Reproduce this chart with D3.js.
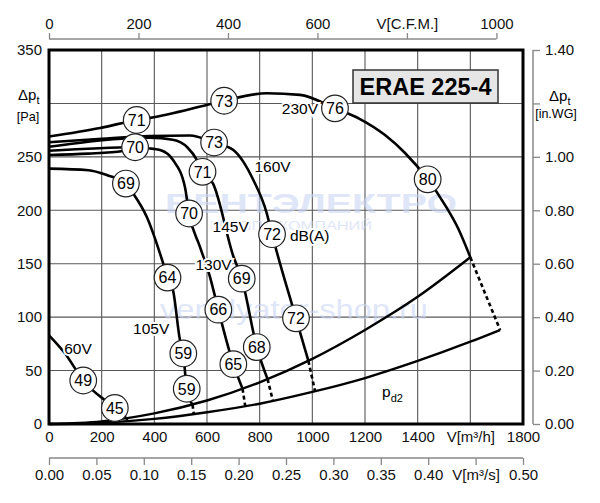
<!DOCTYPE html>
<html><head><meta charset="utf-8">
<script src="https://cdn.jsdelivr.net/npm/d3@7"></script>
<style>body{margin:0;background:#fff}svg{display:block;font-family:"Liberation Sans",Arial,Helvetica,sans-serif}</style>
</head><body><svg id="c" width="600" height="503"></svg>
<script>
// ---------- data ----------
const flowTicks = [0,200,400,600,800,1000,1200,1400,1600,1800];
const flowTickLabels = ["0","200","400","600","800","1000","1200","1400","V[m³/h]","1800"];
const cfmTicks = [0,200,400,600,800,1000];
const cfmTickLabels = ["0","200","400","600","V[C.F.M.]","1000"];
const m3sTicks = [0,0.05,0.10,0.15,0.20,0.25,0.30,0.35,0.40,0.45,0.50];
const m3sTickLabels = ["0.00","0.05","0.10","0.15","0.20","0.25","0.30","0.35","0.40","V[m³/s]","0.50"];
const paTicks = [0,50,100,150,200,250,300,350];
const paTickLabels = ["0","50","100","150","200","250","","350"];
const inwgTicks = [0,0.2,0.4,0.6,0.8,1.0,1.2,1.4];
const inwgTickLabels = ["0.00","0.20","0.40","0.60","0.80","1.00","","1.40"];

// fan curves [V m3/h, dp Pa]
const curve230V = [[0,269],[194,277],[333,284.5],[384,286.5],[599,298.6],[665,302.5],[827,309.5],[953,308],[1086,295.4],[1181,285.4],[1276,270.4],[1352,253.6],[1438,229],[1504,204.9],[1553,183.4],[1600,156]];
const curve160V = [[0,263.6],[200,267],[383,269.5],[535,270],[627,263.4],[700,256.4],[776,228.3],[827,197.2],[847,177.6],[938,98.9],[985,59]];
const curve145V = [[0,259.5],[383,268],[470,266],[525,259],[562,247],[583,236],[623,225],[700,157],[732,136],[789,72],[830,42]];
const curve130V = [[0,255.7],[327,259],[378,258],[422,256.4],[471,247],[516,222],[532,197],[573,166],[611,138],[643,107],[700,56],[735,33]];
const curve130Vb = [[0,251.8],[150,253],[280,255.5],[327,259]];
const curve105V = [[0,239],[150,237.5],[219,233],[292,225],[319,216],[371,194],[433,150.7],[450,137],[472,124],[497,79],[510,66],[523,33],[545,18]];
const curve60V = [[0,83],[61,66],[130,40.7],[250,15],[300,4]];

// dashed extensions
const dash230V = [[1600,156],[1713,88]];
const dash160V = [[985,59],[1010,31]];
const dash145V = [[830,42],[850,22]];
const dash130V = [[735,33],[745,17]];
const dash105V = [[545,18],[550,9]];

// system / dynamic pressure curves
const systemUpper = [[0,0],[200,2.5],[400,10],[600,22],[800,39],[1000,61],[1200,88],[1400,119],[1600,156]];
const systemPd2 = [[0,0],[200,1.2],[400,4.8],[600,11],[800,19],[1000,30],[1200,43],[1400,59],[1600,77],[1713,88]];

// sound level markers [V, dp, dB(A)]
const db230V = [[333,284.5,71],[665,302.5,73],[1086,295.4,76],[1438,229,80]];
const db160V = [[627,263.4,73],[847,177.6,72],[938,98.9,72]];
const db145V = [[583,236,71],[732,136,69],[789,72,68]];
const db130V = [[327,259,70],[532,197,70],[643,107,66],[700,56,65]];
const db105V = [[292,225,69],[450,137,64],[510,66,59],[523,33,59]];
const db60V = [[130,40.7,49],[250,15,45]];

// curve labels [V, dp, text]
const curveLabels = [[953,295,"230V"],[849,241,"160V"],[690,185,"145V"],[625,149,"130V"],[388,89,"105V"],[110,71,"60V"],[990,176,"dB(A)"]];

// ---------- drawing ----------
const svg = d3.select("#c");
const x = d3.scaleLinear().domain([0,1800]).range([49,523]);
const y = d3.scaleLinear().domain([0,350]).range([424,50]);
const yIn = d3.scaleLinear().domain([0,1.4]).range([424,50]);
const xCfm = d3.scaleLinear().domain([0,1800/1.699]).range([49,523]);
const xS = d3.scaleLinear().domain([0,0.5]).range([49,523]);

// grid
const grid = svg.append("g").attr("stroke","#585858").attr("stroke-width",1.1);
grid.selectAll("line.v").data(flowTicks.slice(1,-1)).join("line").attr("class","v")
  .attr("x1",d=>x(d)).attr("x2",d=>x(d)).attr("y1",y(0)).attr("y2",y(350));
grid.selectAll("line.h").data(paTicks.slice(1,-1)).join("line").attr("class","h")
  .attr("y1",d=>y(d)).attr("y2",d=>y(d)).attr("x1",x(0)).attr("x2",x(1800));

// watermark
const wm = svg.append("g").attr("fill","#cbd6f4").attr("opacity",0.6);
wm.append("text").attr("x",165).attr("y",213).attr("font-size",27).attr("font-weight","bold")
  .attr("textLength",292).attr("lengthAdjust","spacingAndGlyphs").text("ВЕНТЭЛЕКТРО");
wm.append("text").attr("x",210).attr("y",230).attr("font-size",12)
  .attr("textLength",162).attr("lengthAdjust","spacingAndGlyphs").text("ГРУППА КОМПАНИЙ");
wm.append("text").attr("x",160).attr("y",319).attr("font-size",27)
  .attr("textLength",268).attr("lengthAdjust","spacingAndGlyphs").text("ventilyator-shop.ru");

const line = d3.line().x(d=>x(d[0])).y(d=>y(d[1])).curve(d3.curveMonotoneX);
const cg = svg.append("g").attr("fill","none").attr("stroke","#000");
[systemUpper, systemPd2].forEach(c=>cg.append("path").attr("d",line(c)).attr("stroke-width",2.4));
[dash230V,dash160V,dash145V,dash130V,dash105V].forEach(c=>cg.append("path").attr("d",line(c))
  .attr("stroke-width",2.6).attr("stroke-dasharray","4,3"));
[curve230V,curve160V,curve145V,curve130V,curve130Vb,curve105V,curve60V].forEach(c=>cg.append("path").attr("d",line(c))
  .attr("stroke-width",2.6).attr("stroke-linejoin","round"));

// curve labels
svg.append("g").attr("font-size",15.5).selectAll("text").data(curveLabels).join("text")
  .attr("x",d=>x(d[0])).attr("y",d=>y(d[1])).attr("dy","0.35em").attr("text-anchor","middle")
  .attr("stroke","#fff").attr("stroke-width",4).attr("paint-order","stroke").attr("fill","#000")
  .text(d=>d[2]);

// dB markers
const dbAll = [].concat(db230V,db160V,db145V,db130V,db105V,db60V);
const mk = svg.append("g").selectAll("g").data(dbAll).join("g")
  .attr("transform",d=>`translate(${x(d[0])},${y(d[1])})`);
mk.append("circle").attr("r",13.3).attr("fill","#fff").attr("stroke","#222").attr("stroke-width",1.2);
mk.append("text").attr("text-anchor","middle").attr("dy","0.36em").attr("font-size",16).text(d=>d[2]);

// p_d2 label
const pd = svg.append("text").attr("x",x(1265)).attr("y",y(25)).attr("font-size",15.5).text("p");
pd.append("tspan").attr("font-size",11).attr("dy",5).text("d2");

// frame
svg.append("rect").attr("x",x(0)).attr("y",y(350)).attr("width",x(1800)-x(0)).attr("height",y(0)-y(350))
  .attr("fill","none").attr("stroke","#000").attr("stroke-width",3);

// title box
svg.append("rect").attr("x",353).attr("y",70).attr("width",145).attr("height",33)
  .attr("fill","#e6e6e6").attr("stroke","#333").attr("stroke-width",1.5);
svg.append("text").attr("x",425.5).attr("y",95).attr("text-anchor","middle").attr("font-size",23.5)
  .attr("font-weight","bold").text("ERAE 225-4");

// left axis (Pa)
const la = svg.append("g").attr("transform",`translate(${x(0)},0)`)
  .call(d3.axisLeft(y).tickValues(paTicks).tickSize(0).tickPadding(7).tickFormat((d,i)=>paTickLabels[i]));
la.select(".domain").remove();
la.selectAll("text").attr("font-size",15).attr("font-family",null).attr("fill","#111");
const lt = svg.append("text").attr("x",18).attr("y",100).attr("font-size",15).text("Δp");
lt.append("tspan").attr("font-size",11).attr("dy",4).text("t");
svg.append("text").attr("x",28).attr("y",121).attr("text-anchor","middle").attr("font-size",12.7).text("[Pa]");

// right axis (in.WG)
const ra = svg.append("g").attr("transform","translate(533,0)")
  .call(d3.axisRight(yIn).tickValues(inwgTicks).tickSize(7).tickPadding(5).tickFormat((d,i)=>inwgTickLabels[i]));
ra.select(".domain").attr("stroke","#888").attr("stroke-width",1.5).attr("d",`M0,${yIn(0)}V${yIn(1.4)}`);
ra.selectAll(".tick line").attr("stroke","#888").attr("stroke-width",1.3);
ra.selectAll("text").attr("font-size",15).attr("font-family",null).attr("fill","#111");
const rt = svg.append("text").attr("x",549).attr("y",101).attr("font-size",15).text("Δp");
rt.append("tspan").attr("font-size",11).attr("dy",4).text("t");
svg.append("text").attr("x",556).attr("y",118).attr("text-anchor","middle").attr("font-size",12.5).text("[in.WG]");

// bottom axis m3/h
const ba = svg.append("g").attr("transform",`translate(0,${y(0)})`)
  .call(d3.axisBottom(x).tickValues(flowTicks).tickSize(0).tickPadding(7).tickFormat((d,i)=>flowTickLabels[i]));
ba.select(".domain").remove();
ba.selectAll("text").attr("font-size",15).attr("font-family",null).attr("fill","#111");

// bottom axis m3/s
const sa = svg.append("g").attr("transform","translate(0,458)")
  .call(d3.axisBottom(xS).tickValues(m3sTicks).tickSize(7).tickPadding(4).tickFormat((d,i)=>m3sTickLabels[i]));
sa.select(".domain").attr("stroke","#888").attr("stroke-width",1.5).attr("d",`M${xS(0)},0H${xS(0.5)}`);
sa.selectAll(".tick line").attr("stroke","#888").attr("stroke-width",1.3);
sa.selectAll("text").attr("font-size",15).attr("font-family",null).attr("fill","#111");

// top axis CFM
const ta = svg.append("g").attr("transform","translate(0,39)")
  .call(d3.axisTop(xCfm).tickValues(cfmTicks).tickSize(6).tickPadding(4).tickFormat((d,i)=>cfmTickLabels[i]));
ta.select(".domain").attr("stroke","#888").attr("stroke-width",1.5).attr("d",`M${xCfm(0)},0H${xCfm(1000)}`);
ta.selectAll(".tick line").attr("stroke","#888").attr("stroke-width",1.3);
ta.selectAll("text").attr("font-size",15).attr("font-family",null).attr("fill","#111");
</script></body></html>
